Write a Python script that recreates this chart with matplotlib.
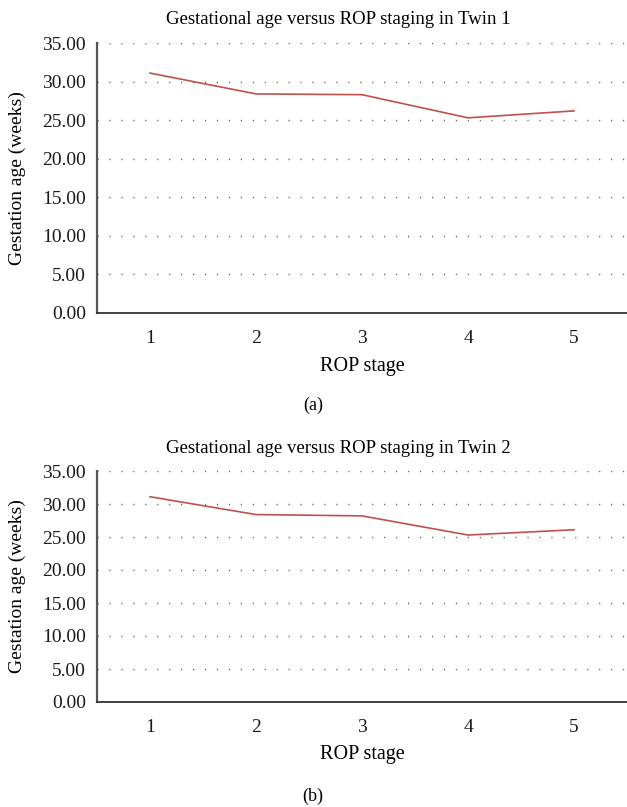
import matplotlib
matplotlib.use("Agg")
import matplotlib.pyplot as plt

plt.rcParams['font.family'] = ['Liberation Serif', 'DejaVu Serif']

# data
stages = [1, 2, 3, 4, 5]
twin1_age = [31.1, 28.4, 28.3, 25.3, 26.2]
twin2_age = [31.1, 28.4, 28.2, 25.3, 26.1]
yticks = [0, 5, 10, 15, 20, 25, 30, 35]
titles = ["Gestational age versus ROP staging in Twin 1",
          "Gestational age versus ROP staging in Twin 2"]
panel_tags = ["(a)", "(b)"]

W, H = 627, 807
fig = plt.figure(figsize=(W / 100, H / 100), dpi=100)

def px_box(left, top, right, bottom):
    return [left / W, 1 - bottom / H, (right - left) / W, (bottom - top) / H]

boxes = [px_box(97, 43, 627, 313), px_box(97, 471, 627, 702)]
series = [twin1_age, twin2_age]
title_y = [19, 448]
xlab_y = [367, 755]
tag_y = [405, 796]
ylab_y = [178, 586]

for i in range(2):
    ax = fig.add_axes(boxes[i])
    ax.plot(stages, series[i], color='#c0504d', lw=1.2)
    ax.set_xlim(0.5, 5.5)
    ax.set_ylim(0, 35)
    ax.set_yticks(yticks)
    ax.set_yticklabels(["%.2f" % v for v in yticks])
    ax.set_xticks(stages)
    ax.tick_params(length=0, labelsize=14, colors='#1a1a1a')
    ax.tick_params(axis='y', pad=8)
    ax.tick_params(axis='x', pad=12)
    for v in yticks[1:]:
        ax.axhline(v, color='#555555', lw=1, dashes=(0.8, 7.8), zorder=0)
    ax.spines['top'].set_visible(False)
    ax.spines['right'].set_visible(False)
    ax.spines['left'].set_color('#555555')
    ax.spines['left'].set_linewidth(1.6)
    ax.spines['bottom'].set_color('#333333')
    ax.spines['bottom'].set_linewidth(1.3)
    fig.text(17 / W, 1 - ylab_y[i] / H, "Gestation age (weeks)", rotation=90,
             ha='center', va='center', fontsize=14)
    fig.text(338 / W, 1 - title_y[i] / H, titles[i], ha='center', va='center', fontsize=13.5)
    fig.text(362 / W, 1 - xlab_y[i] / H, "ROP stage", ha='center', va='center', fontsize=14.5)
    fig.text(313 / W, 1 - tag_y[i] / H, panel_tags[i], ha='center', va='center', fontsize=13)

fig.savefig("out.png", dpi=100)
